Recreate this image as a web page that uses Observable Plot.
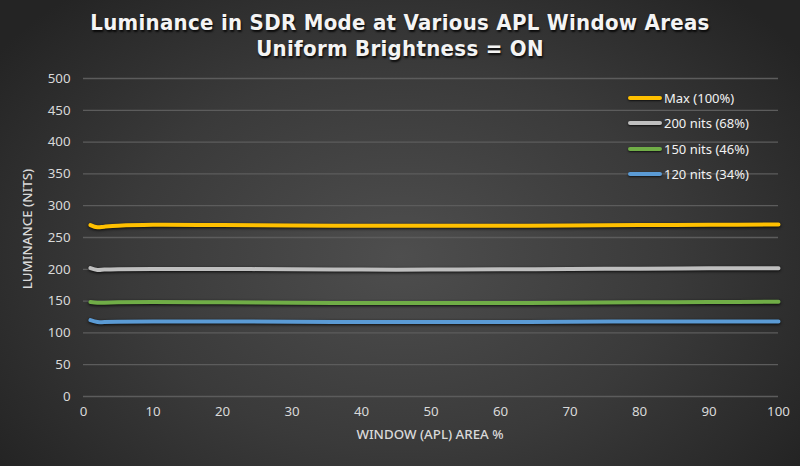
<!DOCTYPE html>
<html>
<head>
<meta charset="utf-8">
<script src="https://cdn.jsdelivr.net/npm/d3@7"></script>
<script src="https://cdn.jsdelivr.net/npm/@observablehq/plot@0.6"></script>
<style>
  html, body { margin: 0; padding: 0; }
  body {
    width: 800px; height: 466px; overflow: hidden; position: relative;
    background: radial-gradient(ellipse 62% 75% at 50% 55%, #4e4e4e 0%, #3a3a3a 55%, #242424 100%);
    font-family: "Noto Sans", sans-serif;
  }
  #title {
    position: absolute; left: 0; top: 10px; width: 800px; text-align: center;
    font-family: "DejaVu Sans Condensed", "DejaVu Sans", sans-serif; font-weight: bold;
    font-size: 22px; line-height: 26px; color: #f4f4f4; letter-spacing: 0.3px;
    text-shadow: 1px 2px 2px rgba(0,0,0,0.8);
  }
  #chart { position: absolute; left: 0; top: 66px; }
  #legend { position: absolute; left: 628px; top: 85px; color: #f2f2f2; font-size: 13px; }
  .li { display: flex; align-items: center; height: 25.5px; }
  .sw { width: 34px; height: 4px; border-radius: 2px; margin-right: 2px; box-shadow: 0 1px 2px rgba(0,0,0,0.7); }
  .axt { position: absolute; color: #d9d9d9; font-weight: 500; font-size: 13.3px; white-space: nowrap; }
  #xt { left: 0; width: 860px; text-align: center; top: 425px; }
  #yt { left: 27px; top: 229px; transform: translate(-50%, -50%) rotate(-90deg); }
  svg g[aria-label="line"] path { filter: drop-shadow(0px 1.5px 1.5px rgba(0,0,0,0.85)); }
</style>
</head>
<body>
<div id="title">Luminance in SDR Mode at Various APL Window Areas<br>Uniform Brightness = ON</div>
<div id="chart"></div>
<div id="legend"></div>
<div class="axt" id="xt"></div>
<div class="axt" id="yt"></div>
<script>
const apl = [1, 2, 3, 5, 10, 20, 30, 40, 50, 60, 70, 80, 90, 100];
const seriesNames = ["Max (100%)", "200 nits (68%)", "150 nits (46%)", "120 nits (34%)"];
const maxVals   = [269.5, 266, 267, 268.5, 270, 269.5, 269, 268.5, 268.5, 268.5, 269, 269.5, 270, 270.5];
const nits200   = [202, 199, 199.5, 200, 200.5, 200.5, 200, 199.5, 199.5, 200, 200.5, 201, 201.5, 201.5];
const nits150   = [148.5, 147.5, 147.5, 148, 148.5, 148, 147.5, 147, 147, 147, 147.5, 148, 148.5, 149];
const nits120   = [120, 117, 117, 117.5, 118, 118, 117.5, 117, 117, 117, 117.5, 118, 118, 118];
const seriesColors = ["#ffc000", "#bfbfbf", "#70ad47", "#5b9bd5"];
const xTicks = [0, 10, 20, 30, 40, 50, 60, 70, 80, 90, 100];
const yTicks = [0, 50, 100, 150, 200, 250, 300, 350, 400, 450, 500];
const xTitle = "WINDOW (APL) AREA %";
const yTitle = "LUMINANCE (NITS)";

const allVals = [maxVals, nits200, nits150, nits120];
const data = [];
allVals.forEach((vals, i) => vals.forEach((v, j) => data.push({series: seriesNames[i], x: apl[j], y: v})));

const chart = Plot.plot({
  width: 800,
  height: 400,
  marginLeft: 83,
  marginRight: 22,
  marginTop: 12,
  marginBottom: 70,
  style: { background: "transparent", color: "#d9d9d9", fontSize: "13.3px", fontFamily: "Noto Sans, sans-serif" },
  x: { domain: [0, 100], ticks: xTicks, tickSize: 0, tickPadding: 10, label: null },
  y: { domain: [0, 500], ticks: yTicks, tickSize: 0, tickPadding: 13, label: null },
  color: { domain: seriesNames, range: seriesColors },
  marks: [
    Plot.ruleY(yTicks, { stroke: "#5c5c5c", strokeWidth: 1.3 }),
    Plot.line(data, { x: "x", y: "y", z: "series", stroke: "series", strokeWidth: 4, curve: "catmull-rom", strokeLinecap: "round" })
  ]
});
document.getElementById("chart").appendChild(chart);

document.getElementById("xt").textContent = xTitle;
document.getElementById("yt").textContent = yTitle;

const leg = document.getElementById("legend");
seriesNames.forEach((n, i) => {
  const d = document.createElement("div");
  d.className = "li";
  d.innerHTML = `<span class="sw" style="background:${seriesColors[i]}"></span><span>${n}</span>`;
  leg.appendChild(d);
});
</script>
</body>
</html>
